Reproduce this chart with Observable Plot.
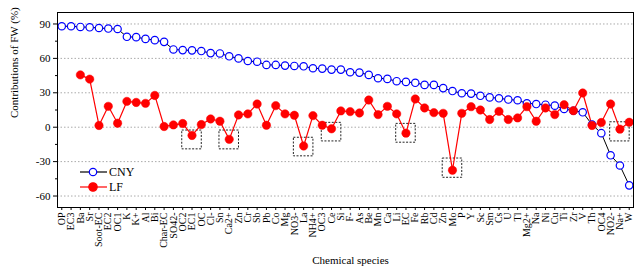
<!DOCTYPE html>
<html>
<head>
<meta charset="utf-8">
<script src="https://cdn.jsdelivr.net/npm/d3@7"></script>
<script src="https://cdn.jsdelivr.net/npm/@observablehq/plot@0.6"></script>
<style>
  html, body { margin: 0; padding: 0; background: white; }
  #wrap { position: relative; width: 634px; height: 269px; }
  #legend { position: absolute; left: 0; top: 0; pointer-events: none; }
  #wrap svg text { font-family: "Liberation Serif", "Times New Roman", serif !important; }
</style>
</head>
<body>
<div id="wrap"></div>
<script>
const categories = ["OP","EC3","Ba","Sr","Soot-EC","EC2","OC1","K","K+","Al","Bi","Char-EC","SO42-","OC2","EC1","OC","Cl-","Sn","Ca2+","Zn","Cr","Sb","Pb","Co","Mg","NO3-","La","NH4+","OC3","Ce","Si","F-","As","Be","Mn","Ca","Li","EC","Fe","Rb","Cd","Zn","Mo","P","Y","Sc","Sm","Cs","U","Tl","Mg2+","Na","Ni","Cu","Ti","Zr","V","Th","OC4","NO2-","Na+","W"];

const cny = [88.0, 88.0, 87.4, 87.1, 86.5, 86.0, 85.6, 78.8, 78.5, 77.0, 75.9, 74.4, 67.8, 67.2, 67.0, 66.4, 64.6, 64.3, 61.8, 60.0, 57.7, 57.1, 54.3, 54.3, 53.7, 53.4, 53.1, 51.4, 51.1, 50.2, 50.2, 47.9, 47.6, 45.6, 42.7, 42.1, 40.1, 39.5, 38.7, 36.9, 36.9, 34.1, 31.5, 29.6, 29.3, 27.4, 26.0, 25.2, 24.1, 23.5, 20.8, 20.2, 19.6, 18.8, 15.9, 14.4, 13.0, 2.3, -5.2, -24.5, -33.4, -50.7];

const lf = [null, null, 45.6, 41.9, 1.5, 18.2, 3.5, 22.5, 21.6, 20.8, 27.7, 0.6, 2.0, 3.2, -7.2, 2.3, 7.2, 5.2, -10.6, 10.7, 11.6, 20.2, 1.7, 18.8, 11.6, 10.4, -16.4, 10.1, 1.7, -1.4, 14.2, 13.6, 12.4, 23.7, 11.0, 18.2, 11.6, -5.2, 24.6, 16.8, 12.7, 12.1, -37.5, 12.1, 17.9, 15.0, 6.7, 13.8, 6.7, 8.1, 17.9, 5.2, 16.8, 11.0, 19.6, 14.4, 29.8, 1.5, 4.1, 20.2, -1.7, 4.3];

// highlighted (dashed box) categories and their value ranges
const boxIndex = [14, 18, 26, 29, 37, 42, 60];
const boxTop = [-2.9, -2.9, -9.2, 3.8, 2.9, -27.3, 4.3];
const boxBottom = [-19.3, -19.3, -25.4, -12.4, -13.5, -44.1, -12.4];

const yMajor = [-60, -30, 0, 30, 60, 90];
const yMinor = [-45, -15, 15, 45, 75];

const idx = categories.map((_, i) => i);
const boxes = boxIndex.map((c, k) => ({c, top: boxTop[k], bottom: boxBottom[k]}));
const BOX_HALF = 1.05;
const SERIF = "Liberation Serif, Times New Roman, serif";

const chart = Plot.plot({
  width: 634,
  height: 269,
  marginLeft: 57,
  marginRight: 1,
  marginTop: 12,
  marginBottom: 62,
  style: {fontFamily: SERIF, fontSize: "10px", background: "white", color: "black"},
  x: {type: "linear", domain: [-0.46, categories.length - 1 + 0.46], axis: null},
  y: {domain: [-70, 100], axis: null},
  marks: [
    Plot.gridY(yMajor, {stroke: "#aaa", strokeOpacity: 1, strokeDasharray: "1.5,2"}),
    Plot.rect(boxes, {x1: d => d.c - BOX_HALF, x2: d => d.c + BOX_HALF, y1: "bottom", y2: "top", fill: "none", stroke: "#222", strokeWidth: 1, strokeDasharray: "2,1.5"}),
    Plot.line(idx, {x: i => i, y: i => cny[i], stroke: "black", strokeWidth: 1}),
    Plot.line(idx, {x: i => i, y: i => lf[i], stroke: "#ff0000", strokeWidth: 1.2}),
    Plot.dot(idx, {x: i => i, y: i => cny[i], r: 3.7, stroke: "#0000ff", fill: "white", strokeWidth: 1.2}),
    Plot.dot(idx, {x: i => i, y: i => lf[i], r: 4.2, fill: "#ff0000", stroke: "#ff0000", strokeWidth: 0.5}),
    Plot.axisY({ticks: yMajor, tickSize: 4, tickPadding: 3, fontSize: 11, label: null, tickFormat: d => String(d)}),
    Plot.axisY({ticks: yMinor, tickSize: 2, label: null, tickFormat: () => ""}),
    Plot.axisX({ticks: idx, tickSize: 3, tickPadding: 2, tickRotate: -90, fontSize: 10, label: null, tickFormat: i => categories[i]}),
    Plot.frame({stroke: "black", strokeWidth: 1}),
    Plot.text(["Contributions of FW (%)"], {frameAnchor: "left", rotate: -90, dx: -43, dy: 8, fontSize: 11, fontWeight: "normal", fill: "black"}),
    Plot.text(["Chemical species"], {frameAnchor: "bottom", dx: 5, dy: 56, fontSize: 11, fontWeight: "normal", fill: "black"})
  ]
});

const wrap = document.getElementById("wrap");
wrap.appendChild(chart);

// Legend overlay
const legendItems = [
  {name: "CNY", line: "black", stroke: "#0000ff", fill: "white", r: 3.7},
  {name: "LF", line: "#ff0000", stroke: "#ff0000", fill: "#ff0000", r: 4.2}
];
const lg = d3.select(wrap).append("svg")
  .attr("id", "legend")
  .attr("width", 634).attr("height", 269);
legendItems.forEach((it, k) => {
  const y = 172 + k * 15;
  lg.append("line").attr("x1", 80).attr("x2", 107).attr("y1", y).attr("y2", y)
    .attr("stroke", it.line).attr("stroke-width", 1.2);
  lg.append("circle").attr("cx", 93).attr("cy", y).attr("r", it.r)
    .attr("stroke", it.stroke).attr("fill", it.fill).attr("stroke-width", 1.2);
  lg.append("text").attr("x", 109).attr("y", y).attr("dy", "0.35em")
    .attr("font-size", 12).text(it.name);
});
</script>
</body>
</html>
